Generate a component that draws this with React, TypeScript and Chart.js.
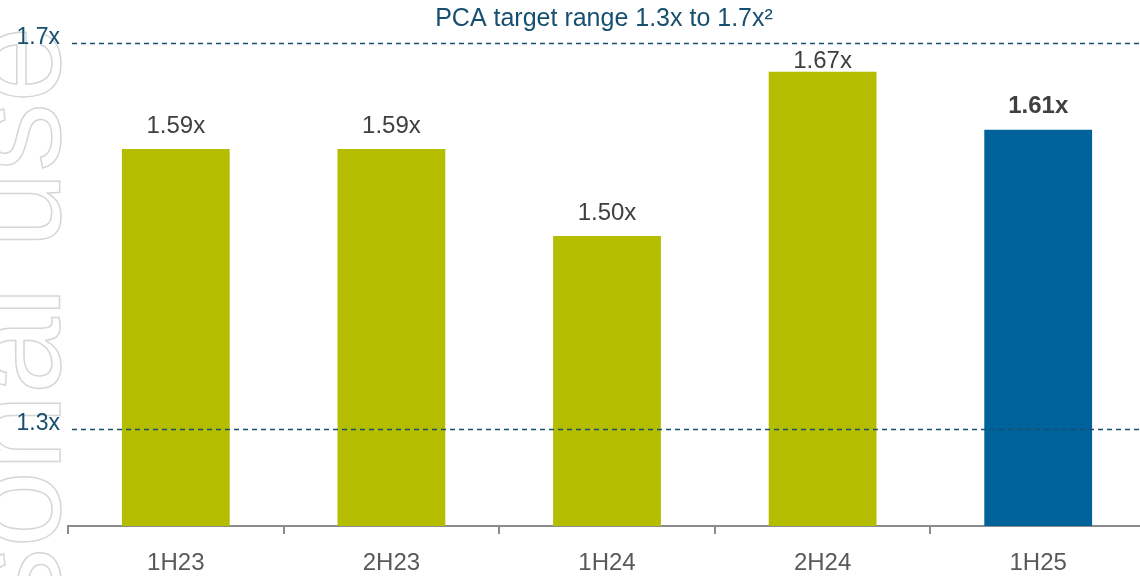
import React, { useEffect, useRef } from "react";
import { Chart, registerables } from "chart.js";

Chart.register(...registerables);

const categories = ["1H23", "2H23", "1H24", "2H24", "1H25"];
const coverRatios = [1.59, 1.59, 1.5, 1.67, 1.61];
const targetLow = 1.3;
const targetHigh = 1.7;
const targetTickLabels = ["1.3x", "1.7x"];
const titleText = "PCA target range 1.3x to 1.7x\u00B2";
const watermarkText = "Personal use";
const highlightCategory = "1H25";

const GREEN = "#B5BD00";
const BLUE = "#00629B";
const NAVY = "#174F6F";
const FONT = "Arial, 'Liberation Sans', sans-serif";

export default function App() {
  const canvasRef = useRef<HTMLCanvasElement | null>(null);

  useEffect(() => {
    const canvas = canvasRef.current;
    if (!canvas) return;

    const overlay = {
      id: "overlay",
      beforeDraw(chart: any) {
        const ctx = chart.ctx;
        ctx.save();
        ctx.translate(60, 26);
        ctx.rotate(-Math.PI / 2);
        ctx.font = `138px ${FONT}`;
        ctx.textAlign = "right";
        ctx.textBaseline = "alphabetic";
        ctx.strokeStyle = "#D6D6D6";
        ctx.lineWidth = 1.5;
        ctx.strokeText(watermarkText, 0, 0);
        ctx.restore();
      },
      afterDatasetsDraw(chart: any) {
        const ctx = chart.ctx;
        const y = chart.scales.y;
        const area = chart.chartArea;
        const levels = [targetLow, targetHigh];
        ctx.save();
        levels.forEach((v, i) => {
          const py = Math.round(y.getPixelForValue(v)) + 0.5;
          ctx.setLineDash([5, 4]);
          ctx.strokeStyle = NAVY;
          ctx.lineWidth = 1.3;
          ctx.beginPath();
          ctx.moveTo(area.left + 4, py);
          ctx.lineTo(area.right, py);
          ctx.stroke();
          ctx.setLineDash([]);
          ctx.fillStyle = NAVY;
          ctx.font = `23px ${FONT}`;
          ctx.textAlign = "right";
          ctx.textBaseline = "middle";
          ctx.fillText(targetTickLabels[i], 60, py - 6);
        });

        // title
        ctx.fillStyle = NAVY;
        ctx.font = `25px ${FONT}`;
        ctx.textAlign = "center";
        ctx.textBaseline = "middle";
        ctx.fillText(titleText, (area.left + area.right) / 2 - 3, 19);

        // value labels
        const highY = y.getPixelForValue(targetHigh);
        const meta = chart.getDatasetMeta(0);
        meta.data.forEach((bar: any, i: number) => {
          const isHi = categories[i] === highlightCategory;
          ctx.font = `${isHi ? "bold " : ""}24px ${FONT}`;
          ctx.fillStyle = "#404040";
          ctx.textAlign = "center";
          ctx.textBaseline = "middle";
          const ly = Math.max(bar.y - 23, highY + 19);
          ctx.fillText(coverRatios[i].toFixed(2) + "x", bar.x, ly);
        });
        ctx.restore();
      },
    };

    const chart = new Chart(canvas, {
      type: "bar",
      data: {
        labels: categories,
        datasets: [
          {
            data: coverRatios,
            backgroundColor: categories.map((c) => (c === highlightCategory ? BLUE : GREEN)),
            borderWidth: 0,
            barPercentage: 0.5,
            categoryPercentage: 1.0,
          },
        ],
      },
      options: {
        animation: false,
        responsive: true,
        maintainAspectRatio: false,
        layout: { padding: { left: 68, right: 4, top: 4, bottom: 0 } },
        plugins: {
          legend: { display: false },
          tooltip: { enabled: false },
          title: { display: false },
        },
        scales: {
          x: {
            afterFit: (s: any) => {
              s.height = 50;
            },
            grid: {
              display: true,
              drawOnChartArea: false,
              drawTicks: true,
              tickLength: 8,
              color: "#8C8C8C",
              lineWidth: 2,
              offset: true,
            },
            border: { display: true, color: "#8C8C8C", width: 2 },
            ticks: {
              color: "#595959",
              font: { family: FONT, size: 24 },
              padding: 15,
              maxRotation: 0,
            },
          },
          y: {
            display: false,
            min: 1.2,
            max: 1.74,
          },
        },
      },
      plugins: [overlay],
    });

    return () => chart.destroy();
  }, []);

  return (
    <div style={{ position: "fixed", left: 0, top: 0, width: 1150, height: 576, background: "#fff" }}>
      <canvas ref={canvasRef} />
    </div>
  );
}
